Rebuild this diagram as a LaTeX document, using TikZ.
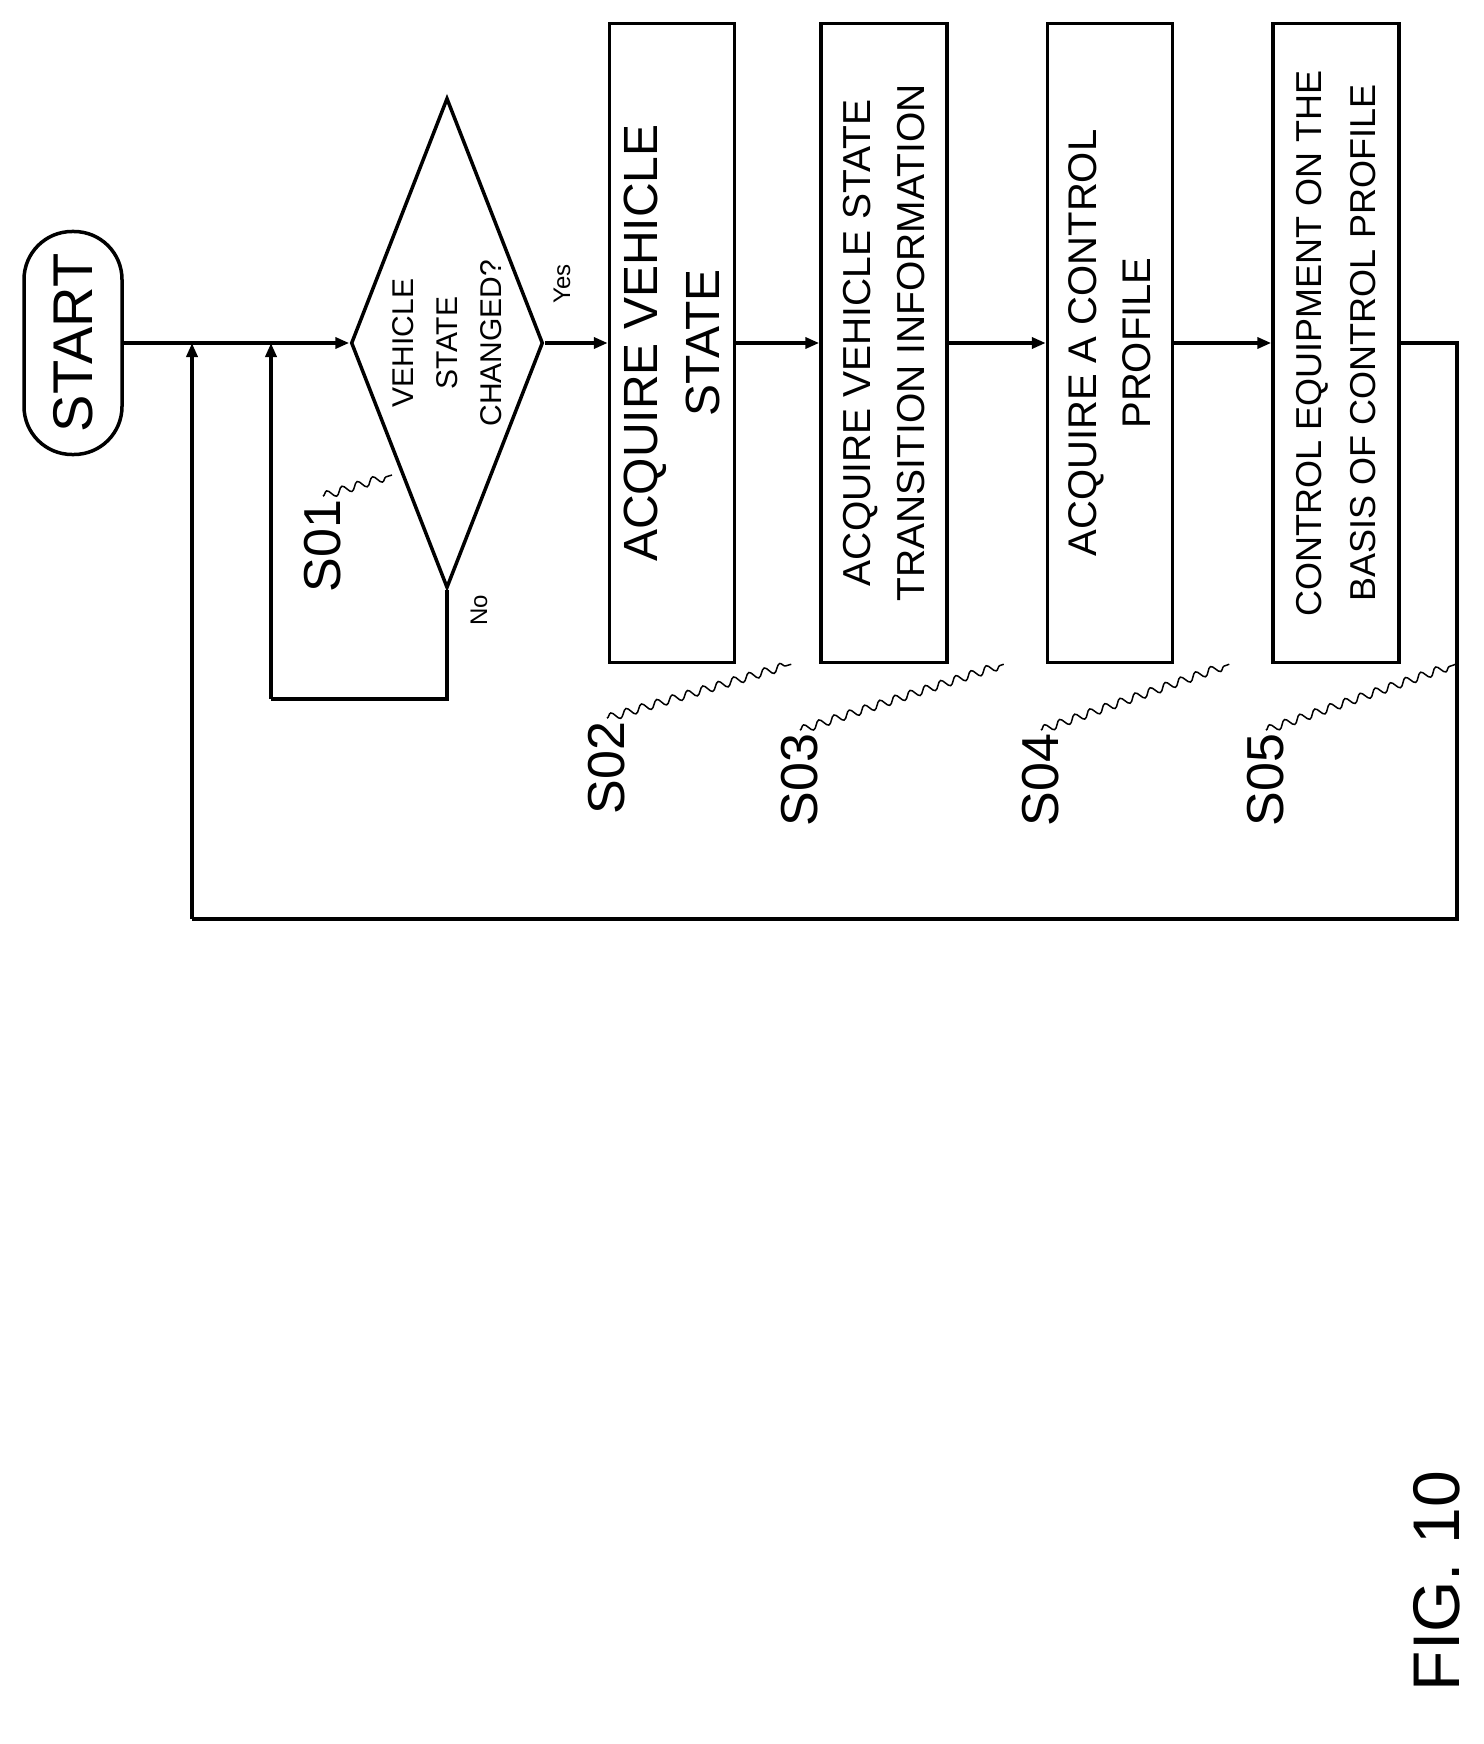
\documentclass[tikz,border=0pt]{standalone}
\usepackage{fontspec}
\setmainfont{Liberation Sans}
\usetikzlibrary{shapes.geometric,arrows.meta,decorations.pathmorphing}
\tikzset{
  box/.style={draw,line width=3.5pt,rotate=90,align=center,inner sep=0pt},
  flow/.style={line width=3.5pt,-{Triangle[length=14pt,width=11pt]}},
  plain/.style={line width=3.5pt},
  squig/.style={line width=1.5pt,decorate,decoration={snake,amplitude=4pt,segment length=16pt}},
  steplab/.style={rotate=90,font=\fontsize{52}{52}\selectfont}
}
\begin{document}
\begin{tikzpicture}[x=1pt,y=-1pt]
\useasboundingbox (0,0) rectangle (1483,1744);

% steps
\node[box,rounded corners=48pt,minimum width=223pt,minimum height=98pt,font=\fontsize{56}{56}\selectfont] (start) at (73,343) {START};
\node[draw,line width=3.5pt,diamond,minimum width=192pt,minimum height=490pt,inner sep=0pt] (s01) at (447,343) {};
\node[rotate=90,align=center,font=\fontsize{30}{44}\selectfont] at (s01) {VEHICLE\\STATE\\CHANGED?};
\node[box,minimum width=639pt,minimum height=125pt,font=\fontsize{48}{62}\selectfont] (s02) at (672,343) {ACQUIRE VEHICLE\\STATE};
\node[box,minimum width=639pt,minimum height=126pt,font=\fontsize{39}{54}\selectfont] (s03) at (884,343) {ACQUIRE VEHICLE STATE\\TRANSITION INFORMATION};
\node[box,minimum width=639pt,minimum height=125pt,font=\fontsize{40}{54}\selectfont] (s04) at (1110,343) {ACQUIRE A CONTROL\\PROFILE};
\node[box,minimum width=639pt,minimum height=126pt,font=\fontsize{36}{54}\selectfont] (s05) at (1336,343) {CONTROL EQUIPMENT ON THE\\BASIS OF CONTROL PROFILE};

% junctions and loop corners
\coordinate (j1) at (192,343);
\coordinate (j2) at (271,343);
\coordinate (n1) at (447,699);
\coordinate (n2) at (271,699);
\coordinate (r1) at (1457,343);
\coordinate (r2) at (1457,919);
\coordinate (r3) at (192,919);

% connectors
\draw[flow] (start.south) -- (s01.west);
\draw[flow] (s01.east) -- (s02.north);
\node[rotate=90,font=\fontsize{24}{24}\selectfont] (yes) at (562,284) {Yes};
\draw[flow] (s02.south) -- (s03.north);
\draw[flow] (s03.south) -- (s04.north);
\draw[flow] (s04.south) -- (s05.north);
\draw[plain] (s01.south) -- (n1) -- (n2);
\draw[flow] (n2) -- (j2);
\draw[plain] (s05.south) -- (r1) -- (r2) -- (r3);
\draw[flow] (r3) -- (j1);
\node[rotate=90,font=\fontsize{24}{24}\selectfont] (no) at (479,610) {No};

% step labels
\node[steplab] (l01) at (323,546) {S01};
\node[steplab] (l02) at (607,768) {S02};
\node[steplab] (l03) at (800,780) {S03};
\node[steplab] (l04) at (1041,780) {S04};
\node[steplab] (l05) at (1266,780) {S05};
\draw[squig] (l01.east) -- (392,475);
\draw[squig] (l02.east) -- ([xshift=55pt]s02.south west);
\draw[squig] (l03.east) -- ([xshift=55pt]s03.south west);
\draw[squig] (l04.east) -- ([xshift=55pt]s04.south west);
\draw[squig] (l05.east) -- ([xshift=55pt]s05.south west);

\node[rotate=90,font=\fontsize{66}{66}\selectfont] (fig) at (1437,1581) {FIG. 10};
\end{tikzpicture}
\end{document}
